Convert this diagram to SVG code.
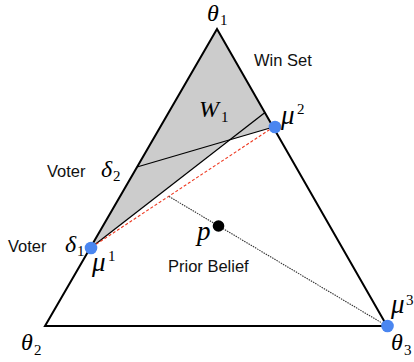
<svg xmlns="http://www.w3.org/2000/svg" width="414" height="362" viewBox="0 0 414 362">
<style>
.m{font-family:"Liberation Serif","Times New Roman",serif;font-style:italic;font-size:24px;fill:#000}
.mu{font-size:27px}
.s{font-family:"Liberation Serif","Times New Roman",serif;font-size:15px;fill:#000}
.t{font-family:"Liberation Sans",Arial,sans-serif;font-size:16.5px;fill:#111}
.edge{fill:none;stroke:#000;stroke-width:2}
.thin{fill:none;stroke:#000;stroke-width:1.3}
.blue{fill:#4a86f0}
</style>
<rect width="414" height="362" fill="#fff"/>
<g id="winset">
<polygon points="217,29 90.5,248 227,141 273.5,127" fill="#cccccc"/>
</g>
<g id="connectors">
<polygon class="edge" points="217,29 45,326 387,326"/>
<line class="thin" x1="90.5" y1="248" x2="265" y2="112.5"/>
<line class="thin" x1="137" y1="167" x2="273.5" y2="127"/>
<line x1="92" y1="247" x2="273.5" y2="127" stroke="#ee3a22" stroke-width="1.1" stroke-dasharray="3,2"/>
<line x1="169" y1="196.5" x2="387" y2="326" stroke="#333" stroke-width="1.1" stroke-dasharray="1.5,1"/>
</g>
<g id="theta1"><text class="m" x="207" y="21">θ</text><text class="s" x="220" y="25">1</text></g>
<g id="theta2"><text class="m" x="21" y="350">θ</text><text class="s" x="34" y="355">2</text></g>
<g id="theta3"><text class="m" x="391" y="350">θ</text><text class="s" x="404" y="355">3</text></g>
<g id="W1"><text class="m" x="199" y="117">W</text><text class="s" x="221" y="122">1</text></g>
<g id="winsetlabel"><text class="t" x="254" y="66">Win Set</text></g>
<g id="mu2"><circle class="blue" cx="275" cy="127" r="6.3"/><text class="m mu" x="281" y="124">μ</text><text class="s" x="297" y="114">2</text></g>
<g id="mu1"><circle class="blue" cx="91" cy="248" r="6.3"/><text class="m mu" x="92" y="271">μ</text><text class="s" x="108" y="261">1</text></g>
<g id="mu3"><circle class="blue" cx="387.5" cy="326" r="6.3"/><text class="m mu" x="391" y="313">μ</text><text class="s" x="406" y="305">3</text></g>
<g id="delta2"><text class="t" x="47" y="177">Voter</text><text class="m" x="101" y="177">δ</text><text class="s" x="113" y="181">2</text></g>
<g id="delta1"><text class="t" x="8" y="252">Voter</text><text class="m" x="65" y="252">δ</text><text class="s" x="77" y="256">1</text></g>
<g id="p"><circle cx="218.5" cy="226" r="5.8" fill="#000"/><text class="m mu" x="197" y="240">p</text></g>
<g id="prior"><text class="t" x="168" y="272">Prior Belief</text></g>
</svg>
